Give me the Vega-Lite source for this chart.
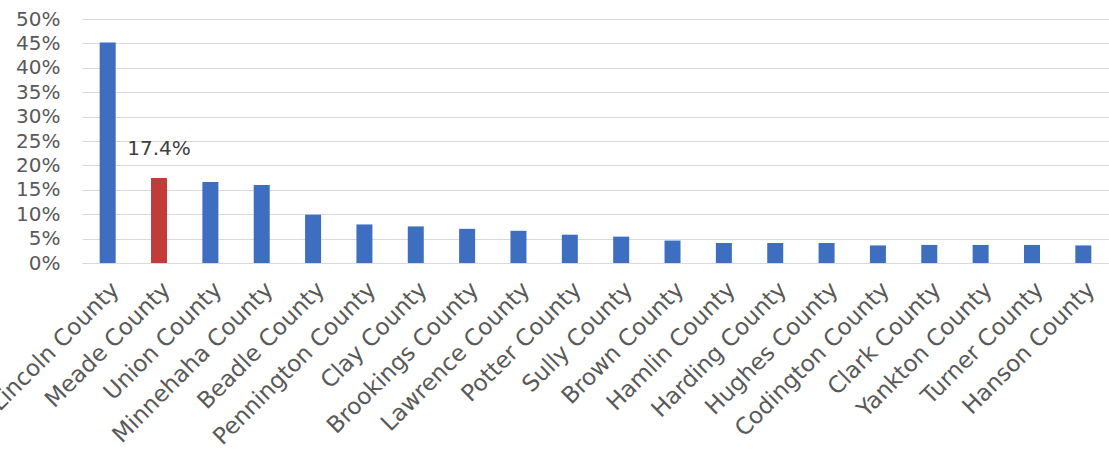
{
  "$schema": "https://vega.github.io/schema/vega-lite/v6.json",
  "width": 1027,
  "height": 244,
  "autosize": "none",
  "padding": {"left": 82, "top": 19, "right": 0, "bottom": 205},
  "background": "white",
  "config": {"view": {"stroke": null}, "font": "DejaVu Sans"},
  "data": {
    "values": [
      {"county": "Lincoln County", "share": 0.452, "group": "other"},
      {"county": "Meade County", "share": 0.174, "group": "highlight"},
      {"county": "Union County", "share": 0.166, "group": "other"},
      {"county": "Minnehaha County", "share": 0.160, "group": "other"},
      {"county": "Beadle County", "share": 0.099, "group": "other"},
      {"county": "Pennington County", "share": 0.079, "group": "other"},
      {"county": "Clay County", "share": 0.075, "group": "other"},
      {"county": "Brookings County", "share": 0.070, "group": "other"},
      {"county": "Lawrence County", "share": 0.066, "group": "other"},
      {"county": "Potter County", "share": 0.058, "group": "other"},
      {"county": "Sully County", "share": 0.054, "group": "other"},
      {"county": "Brown County", "share": 0.046, "group": "other"},
      {"county": "Hamlin County", "share": 0.041, "group": "other"},
      {"county": "Harding County", "share": 0.041, "group": "other"},
      {"county": "Hughes County", "share": 0.041, "group": "other"},
      {"county": "Codington County", "share": 0.036, "group": "other"},
      {"county": "Clark County", "share": 0.037, "group": "other"},
      {"county": "Yankton County", "share": 0.037, "group": "other"},
      {"county": "Turner County", "share": 0.037, "group": "other"},
      {"county": "Hanson County", "share": 0.036, "group": "other"}
    ]
  },
  "encoding": {
    "x": {
      "field": "county",
      "type": "nominal",
      "sort": null,
      "scale": {"paddingInner": 0, "paddingOuter": 0},
      "axis": {
        "title": null,
        "labelAngle": -45,
        "labelFontSize": 23,
        "labelColor": "#595959",
        "labelPadding": 15,
        "labelLimit": 0,
        "ticks": false,
        "domainColor": "#D9D9D9",
        "labelOverlap": false,
        "labelBound": false
      }
    },
    "y": {
      "field": "share",
      "type": "quantitative",
      "scale": {"domain": [0, 0.5], "nice": false},
      "axis": {
        "title": null,
        "values": [0, 0.05, 0.1, 0.15, 0.2, 0.25, 0.3, 0.35, 0.4, 0.45, 0.5],
        "format": ".0%",
        "labelFontSize": 20,
        "labelColor": "#595959",
        "labelPadding": 22,
        "labelOverlap": false,
        "labelBound": false,
        "domain": false,
        "ticks": false,
        "gridColor": "#D9D9D9",
        "gridWidth": 1
      }
    }
  },
  "layer": [
    {
      "mark": {"type": "bar", "width": 16},
      "encoding": {
        "color": {
          "field": "group",
          "type": "nominal",
          "scale": {"domain": ["other", "highlight"], "range": ["#3D6EBF", "#C23B3B"]},
          "legend": null
        }
      }
    },
    {
      "transform": [{"filter": "datum.group == 'highlight'"}],
      "mark": {"type": "text", "baseline": "bottom", "align": "center", "dy": -19, "fontSize": 20, "color": "#404040"},
      "encoding": {
        "text": {"field": "share", "type": "quantitative", "format": ".1%"}
      }
    }
  ]
}
